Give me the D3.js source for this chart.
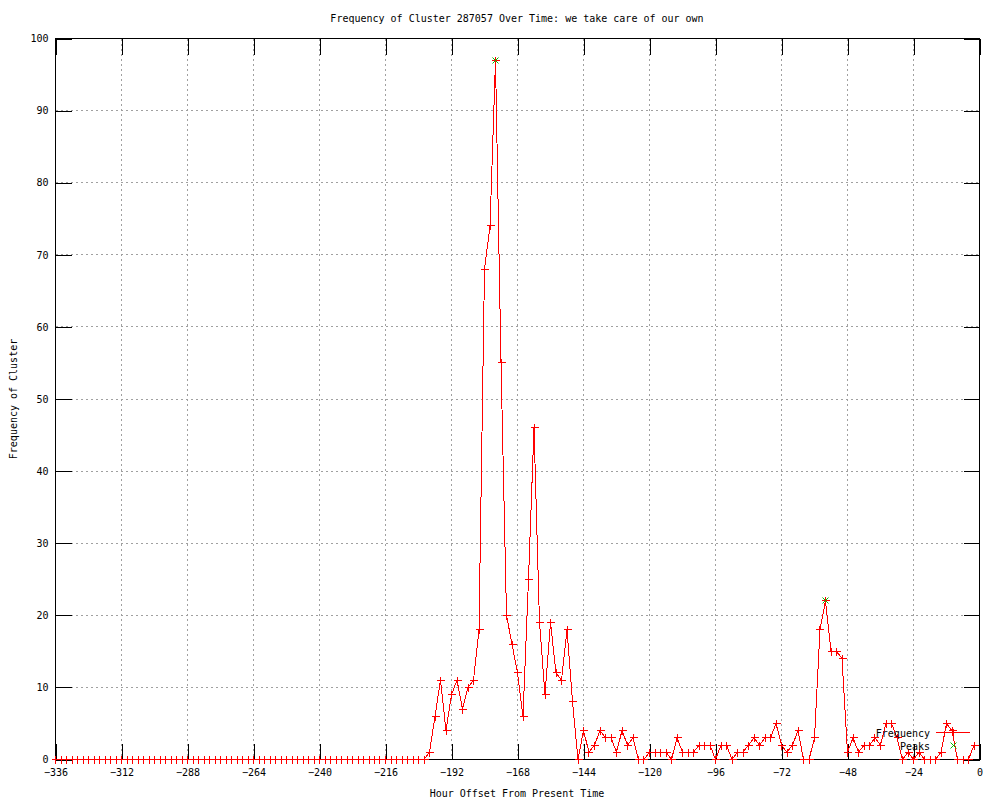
<!DOCTYPE html>
<html>
<head>
<meta charset="utf-8">
<script src="https://cdn.jsdelivr.net/npm/d3@7"></script>
<style>
  body { margin: 0; background: #fff; }
  svg { display: block; }
  text { font-family: "DejaVu Sans Mono", "Liberation Mono", monospace; font-size: 10px; fill: #000; }
</style>
</head>
<body>
<svg id="chart" width="1000" height="800"></svg>
<script>
// ---- data ----
const title = "Frequency of Cluster 287057 Over Time: we take care of our own";
const xLabel = "Hour Offset From Present Time";
const yLabel = "Frequency of Cluster";
const hours = d3.range(-336, 0, 2); // sampling grid (168 bins)
const frequency = [
  0,0,0,0,0,0,0,0,0,0, 0,0,0,0,0,0,0,0,0,0,
  0,0,0,0,0,0,0,0,0,0, 0,0,0,0,0,0,0,0,0,0,
  0,0,0,0,0,0,0,0,0,0, 0,0,0,0,0,0,0,0,0,0,
  0,0,0,0,0,0,0,0,
  1,6,11,4,9,11,7,10,11,18,
  68,74,97,55,20,16,12,6,25,46,
  19,9,19,12,11,18,8,0,4,1,2,
  4,3,3,1,4,2,3,0,0,
  1,1,1,1,0,3,1,1,1,2,2,2,0,2,2,0,1,1,2,3,2,3,3,
  5,2,1,2,4,0,0,3,18,22,
  15,15,14,1,3,1,2,2,3,2,
  5,5,3,0,1,0,1,0,0,0,
  1,5,4,0,0,0,2
];
const peakHours = [-176, -56];
const peakValues = [97, 22];
const xTicks = [-336,-312,-288,-264,-240,-216,-192,-168,-144,-120,-96,-72,-48,-24,0];
const yTicks = [0,10,20,30,40,50,60,70,80,90,100];

// ---- layout ----
const L = 55.5, R = 979.5, T = 38.5, B = 759.5;
const svg = d3.select("#chart");
const x = d3.scaleLinear().domain([-336, 0]).range([L, R]);
const y = d3.scaleLinear().domain([0, 100]).range([B, T]);
const px = v => Math.round(x(v) - 0.5) + 0.5;
const py = v => Math.round(y(v) - 0.5) + 0.5;

// grid
const grid = svg.append("g").attr("shape-rendering", "crispEdges")
  .attr("stroke", "#a0a0a0").attr("stroke-dasharray", "2,3");
grid.selectAll("line.gx").data(xTicks.slice(1, -1)).join("line")
  .attr("x1", d => px(d)).attr("x2", d => px(d)).attr("y1", T).attr("y2", B);
grid.selectAll("line.gy").data(yTicks.slice(1, -1)).join("line")
  .attr("y1", d => py(d)).attr("y2", d => py(d)).attr("x1", L).attr("x2", R);

// axes via d3 axes (inward ticks, mirrored)
const tl = 16;
const axB = svg.append("g").attr("transform", `translate(0,${B})`)
  .call(d3.axisBottom(x).tickValues(xTicks).tickSizeInner(-tl).tickSizeOuter(0).tickPadding(9).tickFormat(d3.format("d")));
const axT = svg.append("g").attr("transform", `translate(0,${T})`)
  .call(d3.axisTop(x).tickValues(xTicks).tickSizeInner(-tl).tickSizeOuter(0).tickFormat(""));
const axL = svg.append("g").attr("transform", `translate(${L},0)`)
  .call(d3.axisLeft(y).tickValues(yTicks).tickSizeInner(-tl).tickSizeOuter(0).tickPadding(7).tickFormat(d3.format("d")));
const axR = svg.append("g").attr("transform", `translate(${R},0)`)
  .call(d3.axisRight(y).tickValues(yTicks).tickSizeInner(-tl).tickSizeOuter(0).tickFormat(""));
[axB, axT, axL, axR].forEach(a => {
  a.attr("shape-rendering", "crispEdges");
  a.select(".domain").remove();
  a.selectAll("line").attr("stroke", "#000");
  a.selectAll("text").attr("font-family", null).attr("font-size", null).attr("fill", "#000");
});
axB.selectAll(".tick text").attr("dy", "0.71em");

// border
svg.append("rect").attr("x", L).attr("y", T).attr("width", R - L).attr("height", B - T)
  .attr("fill", "none").attr("stroke", "#000").attr("shape-rendering", "crispEdges");

// frequency line
const line = d3.line().x((d, i) => x(hours[i])).y(d => y(d));
svg.append("path").datum(frequency).attr("d", line)
  .attr("fill", "none").attr("stroke", "#ff0000").attr("stroke-width", 1)
  .attr("shape-rendering", "crispEdges");

const plus = "M-4,0H4M0,-4V4";
const cross = "M-3,-3L3,3M-3,3L3,-3";
svg.append("g").selectAll("path").data(frequency).join("path")
  .attr("transform", (d, i) => `translate(${px(hours[i])},${py(d)})`)
  .attr("d", plus).attr("stroke", "#ff0000").attr("fill", "none").attr("shape-rendering", "crispEdges");

// peaks
svg.append("g").selectAll("path").data(peakValues).join("path")
  .attr("transform", (d, i) => `translate(${px(peakHours[i])},${py(d)})`)
  .attr("d", cross).attr("stroke", "#00c000").attr("fill", "none");

// legend
const lg = svg.append("g");
lg.append("text").attr("x", 930).attr("y", 733).attr("dy", "0.35em").attr("text-anchor", "end").text("Frequency");
lg.append("line").attr("x1", 936).attr("x2", 970).attr("y1", 732.5).attr("y2", 732.5)
  .attr("stroke", "#ff0000").attr("shape-rendering", "crispEdges");
lg.append("path").attr("transform", "translate(953.5,732.5)").attr("d", plus)
  .attr("stroke", "#ff0000").attr("fill", "none").attr("shape-rendering", "crispEdges");
lg.append("text").attr("x", 930).attr("y", 746).attr("dy", "0.35em").attr("text-anchor", "end").text("Peaks");
lg.append("path").attr("transform", "translate(953.5,745.5)").attr("d", cross)
  .attr("stroke", "#00c000").attr("fill", "none");

// titles
svg.append("text").attr("x", 517).attr("y", 18).attr("dy", "0.35em").attr("text-anchor", "middle").text(title);
svg.append("text").attr("x", 517).attr("y", 793).attr("dy", "0.35em").attr("text-anchor", "middle").text(xLabel);
svg.append("text").attr("transform", "translate(13,399) rotate(-90)").attr("dy", "0.35em")
  .attr("text-anchor", "middle").text(yLabel);
</script>
</body>
</html>
